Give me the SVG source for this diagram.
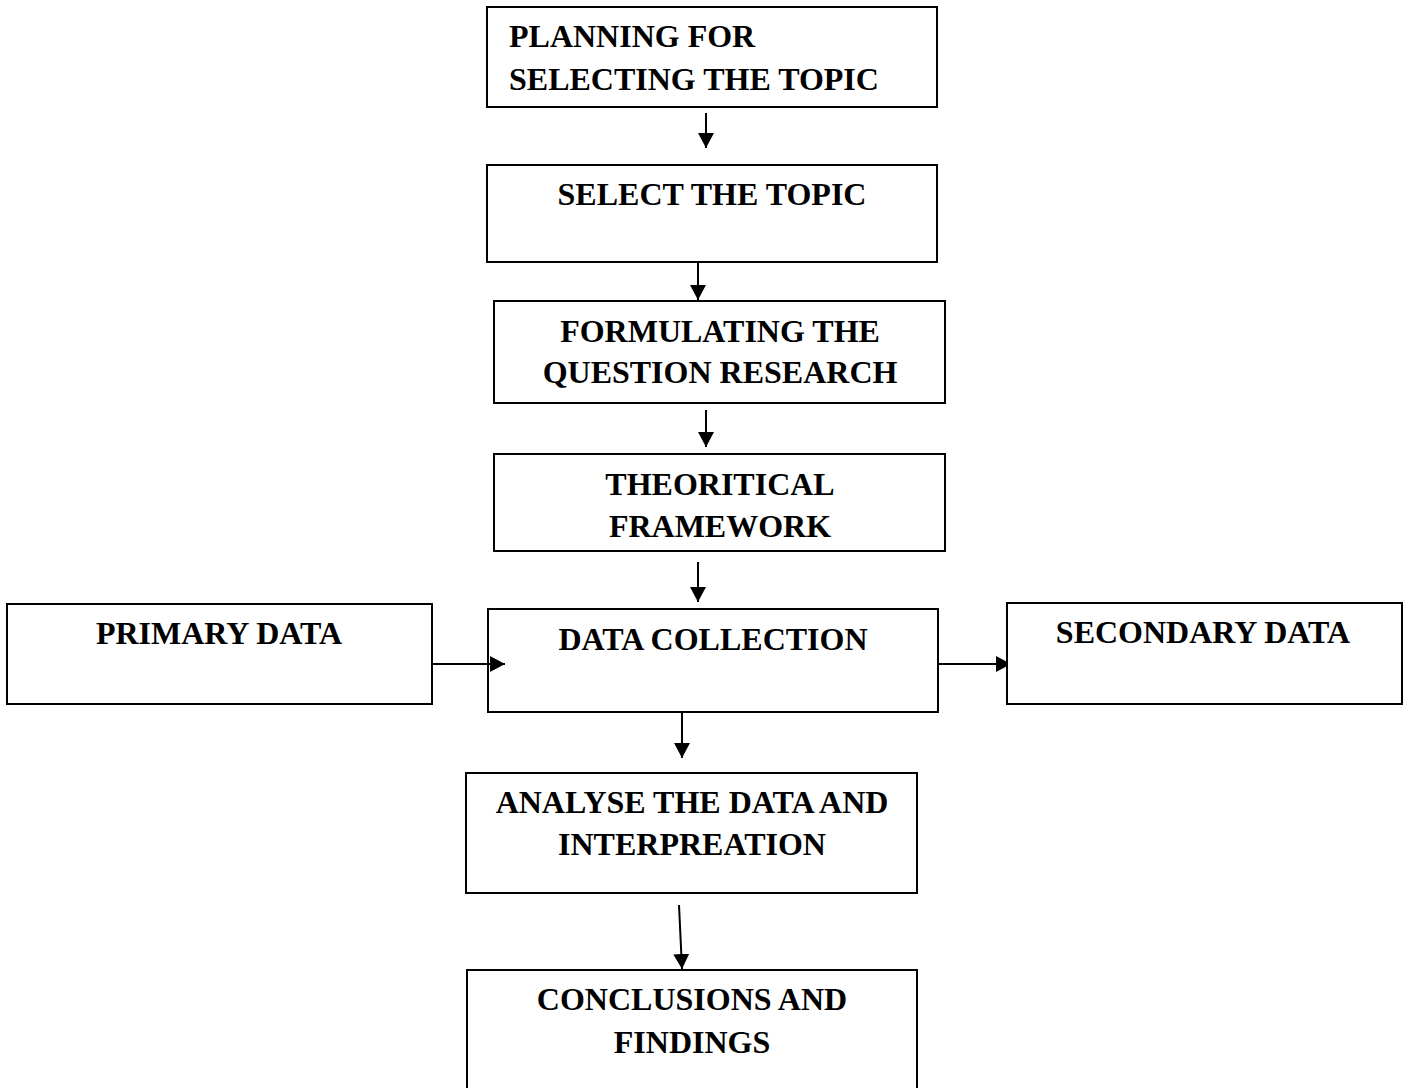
<svg xmlns="http://www.w3.org/2000/svg" width="1411" height="1088" viewBox="0 0 1411 1088">
<style>
.box{fill:#fff;stroke:#000;stroke-width:2}
.t{font-family:"Liberation Serif","Times New Roman",serif;font-weight:bold;font-size:32px;fill:#000}
.c{text-anchor:middle}
.ln{stroke:#000;stroke-width:2;fill:none}
</style>
<defs>
<marker id="ah" markerUnits="userSpaceOnUse" markerWidth="16" markerHeight="16" refX="15" refY="8" orient="auto">
<path d="M0,0 L15,8 L0,16 Z" fill="#000"/>
</marker>
</defs>
<rect width="1411" height="1088" fill="#fff"/>
<g id="connectors">
<line class="ln" x1="706" y1="113" x2="706" y2="148" marker-end="url(#ah)"/>
<line class="ln" x1="698" y1="263" x2="698" y2="300" marker-end="url(#ah)"/>
<line class="ln" x1="706" y1="410" x2="706" y2="447" marker-end="url(#ah)"/>
<line class="ln" x1="698" y1="562" x2="698" y2="602" marker-end="url(#ah)"/>
<line class="ln" x1="432" y1="664" x2="505" y2="664" marker-end="url(#ah)"/>
<line class="ln" x1="938" y1="664" x2="1011" y2="664" marker-end="url(#ah)"/>
<line class="ln" x1="682" y1="713" x2="682" y2="758" marker-end="url(#ah)"/>
<line class="ln" x1="679" y1="905" x2="682" y2="969" marker-end="url(#ah)"/>
</g>
<g id="n1"><rect class="box" x="487" y="7" width="450" height="100"/>
<text class="t" x="509" y="47">PLANNING FOR</text><text class="t" x="509" y="90">SELECTING THE TOPIC</text></g>
<g id="n2"><rect class="box" x="487" y="165" width="450" height="97"/>
<text class="t c" x="712" y="205">SELECT THE TOPIC</text></g>
<g id="n3"><rect class="box" x="494" y="301" width="451" height="102"/>
<text class="t c" x="720" y="342">FORMULATING THE</text><text class="t c" x="720" y="383">QUESTION RESEARCH</text></g>
<g id="n4"><rect class="box" x="494" y="454" width="451" height="97"/>
<text class="t c" x="720" y="495">THEORITICAL</text><text class="t c" x="720" y="537">FRAMEWORK</text></g>
<g id="n5"><rect class="box" x="7" y="604" width="425" height="100"/>
<text class="t c" x="219" y="644">PRIMARY DATA</text></g>
<g id="n6"><rect class="box" x="488" y="609" width="450" height="103" fill="none" style="fill:none"/>
<text class="t c" x="713" y="650">DATA COLLECTION</text></g>
<g id="n7"><rect class="box" x="1007" y="603" width="395" height="101"/>
<text class="t c" x="1203" y="643">SECONDARY DATA</text></g>
<g id="n8"><rect class="box" x="466" y="773" width="451" height="120"/>
<text class="t c" x="692" y="813">ANALYSE THE DATA AND</text><text class="t c" x="692" y="855">INTERPREATION</text></g>
<g id="n9"><rect class="box" x="467" y="970" width="450" height="130"/>
<text class="t c" x="692" y="1010">CONCLUSIONS AND</text><text class="t c" x="692" y="1053">FINDINGS</text></g>
</svg>
